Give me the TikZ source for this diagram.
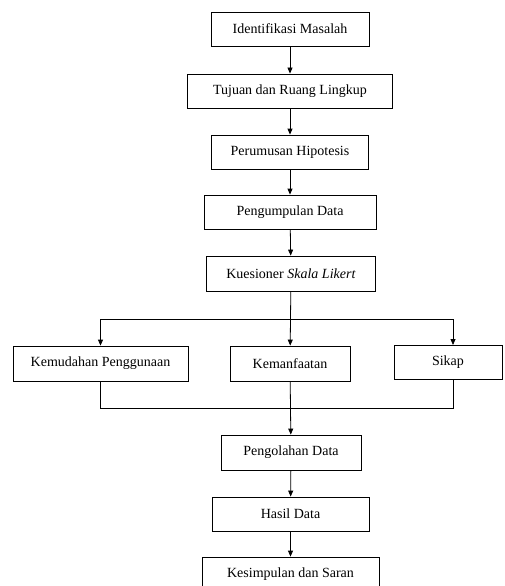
\documentclass[tikz,border=0pt]{standalone}
\usepackage{fontspec}
\setmainfont{Liberation Serif}
\usepackage{tikz}
\usetikzlibrary{arrows.meta}

\begin{document}
\begin{tikzpicture}[x=1pt, y=-1pt,
    box/.style={draw, line width=0.8pt, minimum height=34pt, inner sep=0pt,
      font=\fontsize{14}{16}\selectfont},
    line/.style={line width=0.8pt},
    arr/.style={line width=0.8pt, -{Triangle[width=5pt,length=6pt]}}]
      \useasboundingbox (0,0) rectangle (504,586);

      % alur utama
      \node[box, minimum width=158pt] (identifikasi) at (290,29)  {Identifikasi Masalah};
      \node[box, minimum width=205pt] (tujuan)       at (290,91)  {Tujuan dan Ruang Lingkup};
      \node[box, minimum width=157pt] (perumusan)    at (290,152) {Perumusan Hipotesis};
      \node[box, minimum width=172pt] (pengumpulan)  at (290,212) {Pengumpulan Data};
      \node[box, minimum width=169pt, minimum height=35pt] (kuesioner) at (291,273.5) {Kuesioner \textit{Skala Likert}};

      % variabel
      \node[box, minimum width=175pt, minimum height=35pt] (kemudahan)   at (100.5,363.5) {Kemudahan Penggunaan};
      \node[box, minimum width=120pt, minimum height=35pt] (kemanfaatan) at (290,363.5)   {Kemanfaatan};
      \node[box, minimum width=108pt] (sikap) at (448,362) {Sikap};

      \node[box, minimum width=140pt, minimum height=35pt] (pengolahan) at (291,452.5) {Pengolahan Data};
      \node[box, minimum width=157pt] (hasil)      at (290.5,514) {Hasil Data};
      \node[box, minimum width=177pt] (kesimpulan) at (290.5,574) {Kesimpulan dan Saran};

      \coordinate (split) at (290,319);
      \coordinate (join)  at (290,408);
      \coordinate (sikapatas)  at (453,345);
      \coordinate (sikapbawah) at (453,379);

      \draw[arr] (identifikasi) -- (tujuan);
      \draw[arr] (tujuan) -- (perumusan);
      \draw[arr] (perumusan) -- (pengumpulan);
      \draw[arr] (pengumpulan) -- (kuesioner);

      \draw[arr] (kuesioner) -- (kemanfaatan);
      \draw[arr] (split) -| (kemudahan);
      \draw[arr] (split) -| (sikapatas);

      \draw[line] (kemudahan) |- (join);
      \draw[line] (sikapbawah) |- (join);
      \draw[arr] (kemanfaatan) -- (pengolahan);

      \draw[arr] (pengolahan) -- (hasil);
      \draw[arr] (hasil) -- (kesimpulan);

    \end{tikzpicture}
\end{document}
